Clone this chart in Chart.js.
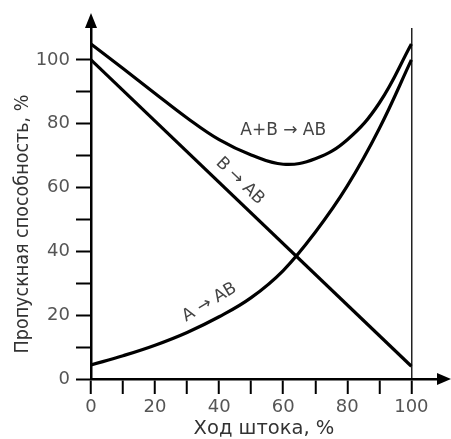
<!DOCTYPE html>
<html>
<head>
<meta charset="utf-8">
<script src="https://cdn.jsdelivr.net/npm/chart.js@4.4.0/dist/chart.umd.min.js"></script>
<style>
  html, body { margin: 0; padding: 0; background: #fff; }
</style>
</head>
<body>
<canvas id="myChart" width="451" height="439"></canvas>
<script>
// tick values on both axes (labels only every 20)
const axisTicks = [0, 10, 20, 30, 40, 50, 60, 70, 80, 90, 100];

// stroke, %
const strokePct = [0, 10, 20, 30, 40, 50, 60, 70, 80, 90, 100];
// flow capacity, % — A+B -> AB
const flowAplusB = [105, 97.3, 89.5, 81.8, 75, 70.2, 67.3, 69, 75, 86.5, 105];
// flow capacity, % — A -> AB
const flowA = [4.4, 7.3, 10.6, 14.6, 19.5, 25.5, 34, 46, 60.5, 78.5, 100];
// B -> AB is a straight line
const strokeB = [0, 100];
const flowB = [100, 4];

const curveLabels = [
  { text: 'A+B → AB', x: 60, y: 78, angle: 0 },
  { text: 'B → AB', x: 46.5, y: 62, angle: 44 },
  { text: 'A → AB', x: 37, y: 24, angle: -31 },
];

const FONT = '"DejaVu Sans", "Liberation Sans", Arial, sans-serif';

const toPoints = (xs, ys) => xs.map((x, i) => ({ x, y: ys[i] }));

const extras = {
  id: 'extras',
  afterDraw(chart) {
    const { ctx, chartArea: { left, right, top, bottom } } = chart;
    const xs = chart.scales.x;
    const ys = chart.scales.y;
    ctx.save();
    // axis arrows
    ctx.fillStyle = '#000';
    ctx.beginPath();
    ctx.moveTo(left, top - 15);
    ctx.lineTo(left - 6, top);
    ctx.lineTo(left + 6, top);
    ctx.closePath();
    ctx.fill();
    ctx.beginPath();
    ctx.moveTo(right + 14, bottom);
    ctx.lineTo(right, bottom - 6);
    ctx.lineTo(right, bottom + 6);
    ctx.closePath();
    ctx.fill();

    // y axis title (a bit narrow, like the original lettering)
    ctx.fillStyle = '#333';
    ctx.font = '19.5px ' + FONT;
    ctx.textAlign = 'center';
    ctx.textBaseline = 'alphabetic';
    ctx.translate(28, 224);
    ctx.rotate(-Math.PI / 2);
    ctx.scale(0.9, 1);
    ctx.fillText('Пропускная способность, %', 0, 0);
    ctx.restore();

    // curve labels
    curveLabels.forEach((l) => {
      ctx.save();
      ctx.translate(xs.getPixelForValue(l.x), ys.getPixelForValue(l.y));
      ctx.rotate(l.angle * Math.PI / 180);
      ctx.fillStyle = '#444';
      ctx.font = '17px ' + FONT;
      ctx.textAlign = 'center';
      ctx.textBaseline = 'middle';
      ctx.fillText(l.text, 0, 0);
      ctx.restore();
    });
  },
};

const lineStyle = {
  borderColor: '#000',
  borderWidth: 3.2,
  pointRadius: 0,
  fill: false,
};

const ctx = document.getElementById('myChart').getContext('2d');
const myChart = new Chart(ctx, {
  type: 'line',
  data: {
    datasets: [
      { ...lineStyle, label: 'A+B → AB', data: toPoints(strokePct, flowAplusB), tension: 0.4 },
      { ...lineStyle, label: 'A → AB', data: toPoints(strokePct, flowA), tension: 0.4 },
      { ...lineStyle, label: 'B → AB', data: toPoints(strokeB, flowB), tension: 0 },
    ],
  },
  options: {
    responsive: false,
    animation: false,
    devicePixelRatio: 1,
    layout: { padding: { top: 28, right: 14, left: 0, bottom: 0 } },
    plugins: { legend: { display: false }, tooltip: { enabled: false } },
    scales: {
      x: {
        type: 'linear',
        min: 0,
        max: 108,
        afterBuildTicks: (s) => { s.ticks = axisTicks.map((v) => ({ value: v })); },
        afterFit: (s) => { s.height = 60; },
        ticks: {
          callback: (v) => (v % 20 === 0 ? v : ''),
          color: '#555',
          font: { family: FONT, size: 18 },
          padding: 3,
          maxRotation: 0,
          autoSkip: false,
        },
        grid: {
          drawOnChartArea: true,
          color: (c) => (c.tick && c.tick.value === 100 ? '#222' : 'rgba(0,0,0,0)'),
          lineWidth: 1.5,
          tickLength: 15,
          tickWidth: 2,
          tickColor: '#000',
        },
        border: { display: true, color: '#000', width: 2.5 },
        title: {
          display: true,
          text: 'Ход штока, %',
          color: '#333',
          font: { family: FONT, size: 19.5, lineHeight: 1 },
          padding: { top: 0, bottom: 0 },
        },
      },
      y: {
        min: 0,
        max: 110,
        afterBuildTicks: (s) => { s.ticks = axisTicks.map((v) => ({ value: v })); },
        afterFit: (s) => { s.width = 91; },
        ticks: {
          callback: (v) => (v % 20 === 0 ? v : ''),
          color: '#555',
          font: { family: FONT, size: 18 },
          padding: 6,
          autoSkip: false,
        },
        grid: {
          drawOnChartArea: false,
          tickLength: 15,
          tickWidth: 2,
          tickColor: '#000',
        },
        border: { display: true, color: '#000', width: 2.5 },
      },
    },
  },
  plugins: [extras],
});
</script>
</body>
</html>
